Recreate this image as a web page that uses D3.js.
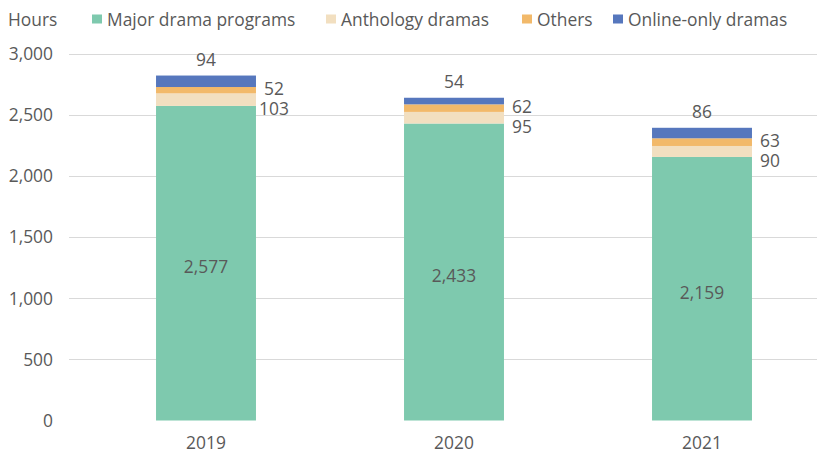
<!DOCTYPE html>
<html><head><meta charset="utf-8">
<script src="https://cdn.jsdelivr.net/npm/d3@7"></script>
<style>body{margin:0;background:#fff}text{font-family:"Open Sans",sans-serif;fill:#595959}</style>
</head><body><svg id="c" width="817" height="453"></svg>
<script>
const years = ["2019","2020","2021"];
const seriesNames = ["Major drama programs","Anthology dramas","Others","Online-only dramas"];
const major = [2577,2433,2159];
const anthology = [103,95,90];
const others = [52,62,63];
const online = [94,54,86];
const yTicks = [0,500,1000,1500,2000,2500,3000];
const colors = ["#7ec9ae","#f2dfc0","#f2b96a","#5677bd"];

const svg = d3.select("#c");
const FS = 17.4;
const x = d3.scaleBand().domain(years).range([82,826]).paddingInner(0.597).paddingOuter(0.2985);
const y = d3.scaleLinear().domain([0,3000]).range([420.5,54.3]);
const fmt = d3.format(",");

// grid
svg.append("g").selectAll("line").data(yTicks.filter(d=>d>0)).join("line")
  .attr("x1",69).attr("x2",817).attr("y1",d=>Math.round(y(d))+0.5).attr("y2",d=>Math.round(y(d))+0.5)
  .attr("stroke","#d9d9d9").attr("stroke-width",1);
svg.append("g").selectAll("text").data(yTicks).join("text")
  .attr("x",53).attr("y",d=>y(d)).attr("dy","0.35em").attr("text-anchor","end")
  .attr("font-size",FS).text(d=>fmt(d));

const rows = years.map((yr,i)=>({year:yr, major:major[i], anthology:anthology[i], others:others[i], online:online[i]}));
const keys = ["major","anthology","others","online"];
const stack = d3.stack().keys(keys)(rows);
svg.append("g").selectAll("g").data(stack).join("g").attr("fill",(d,i)=>colors[i])
  .selectAll("rect").data(d=>d).join("rect")
  .attr("x",d=>x(d.data.year)).attr("width",x.bandwidth())
  .attr("y",d=>y(d[1])).attr("height",d=>y(d[0])-y(d[1]));

// labels
const lab = svg.append("g").attr("font-size",FS);
const cx = d=>x(d.data.year)+x.bandwidth()/2;
const rx = d=>x(d.data.year)+x.bandwidth()+18;
stack[0].forEach(d=>lab.append("text").attr("x",cx(d)).attr("y",y((d[0]+d[1])/2)+4).attr("dy","0.35em").attr("text-anchor","middle").text(fmt(d.data.major)));
stack[2].forEach((d,i)=>{
  const oy = y((d[0]+d[1])/2) - 1;
  lab.append("text").attr("x",rx(d)).attr("y",oy).attr("dy","0.35em").attr("text-anchor","middle").text(fmt(d.data.others));
  const a = stack[1][i];
  const ay = Math.max(y((a[0]+a[1])/2), oy+20);
  lab.append("text").attr("x",rx(a)).attr("y",ay).attr("dy","0.35em").attr("text-anchor","middle").text(fmt(a.data.anthology));
});
stack[3].forEach(d=>lab.append("text").attr("x",cx(d)).attr("y",y(d[1])-16).attr("dy","0.35em").attr("text-anchor","middle").text(fmt(d.data.online)));

// x labels
svg.append("g").selectAll("text").data(years).join("text")
  .attr("x",d=>x(d)+x.bandwidth()/2).attr("y",449).attr("text-anchor","middle")
  .attr("font-size",FS).text(d=>d);

// legend
svg.append("text").attr("x",8).attr("y",20).attr("dy","0.35em").attr("font-size",FS).text("Hours");
const legX = [92,326,522,613];
const lg = svg.append("g").selectAll("g").data(seriesNames).join("g").attr("transform",(d,i)=>`translate(${legX[i]},19)`);
lg.append("rect").attr("x",0).attr("y",-4.5).attr("width",10).attr("height",9).attr("fill",(d,i)=>colors[i]);
lg.append("text").attr("x",15).attr("y",1).attr("dy","0.35em").attr("font-size",FS).text(d=>d);
</script></body></html>
